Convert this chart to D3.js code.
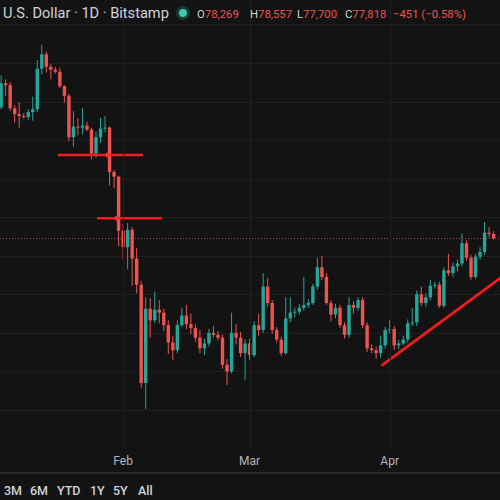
<!DOCTYPE html>
<html><head><meta charset="utf-8">
<script src="https://cdn.jsdelivr.net/npm/d3@7"></script>
<style>html,body{margin:0;padding:0;background:#131313;overflow:hidden}</style>
</head><body>
<svg id="c" width="500" height="500"></svg>
<script>
// ---- data (BTC / USD daily, Bitstamp) ----
const firstDay = "2026-01-05";
const opens  = [91400,93900,93700,91300,90700,90500,90400,90900,91200,95400,96900,95600,95300,95100,93600,92600,88300,89400,89300,89500,89100,86600,88300,89200,89300,84700,84200,78600,76900,78700,75700,73000,62800,70500,69300,70400,70100,68800,67000,66200,68800,69800,68900,68500,67500,66400,66900,68000,67800,67500,64700,64000,68000,67500,65900,66900,65700,68800,68300,72800,71100,68300,67300,65900,69500,70100,70200,70600,70900,71100,72800,74800,73800,71100,69900,70600,68800,67800,70900,70600,71400,68800,66400,66200,65900,66700,68300,68400,66700,66900,67300,69000,69100,72000,71100,71700,72900,73000,70800,74500,74200,74900,75200,77300,75800,73800,75900,76400,78400,78269];
const highs  = [94700,94300,94000,91600,91900,90800,91200,92500,96300,97900,97200,95900,95600,95500,93700,92800,91000,90300,91300,89900,89300,88900,90300,90500,89400,84900,84300,79300,79400,79000,76800,73400,71700,71600,72300,71400,70500,69300,67700,69300,70600,70900,70000,68900,68300,67400,68400,68700,68200,67800,65300,70100,68900,68100,67300,67400,69200,70000,74200,73700,71400,68600,67600,71700,71700,70600,71000,73800,71500,73100,75800,76000,74200,71400,71000,70900,69100,71700,71300,71700,71700,69100,66800,66600,67700,68600,69300,68700,67300,67700,69400,70600,72400,72800,72100,73500,73300,73300,74800,76200,75300,75600,78300,77600,76100,76200,76900,79500,79000,78557];
const lows   = [91200,92600,91000,89800,89300,90200,90100,90000,90900,94800,95000,94300,94900,93400,91900,87900,87300,88500,88600,88900,86000,86200,87700,88800,83300,83000,77000,75600,74600,72900,72100,62300,60100,67500,69000,69000,68200,65800,65200,65900,68600,68400,67900,67100,65900,65700,66600,67500,67200,64300,62600,63800,66800,65500,63100,65200,65500,67700,68000,70700,67900,67000,65600,65700,69100,69600,69900,70300,70600,70900,72500,73500,70900,69200,69500,68500,67400,67500,70000,70300,68500,66000,65900,65300,65400,66400,67900,66200,66300,66700,67000,68700,68700,70800,70700,71400,72600,70600,70600,73900,73800,74400,74900,75500,73500,73600,75600,76100,77900,77700];
const closes = [93900,93700,91300,90700,90500,90400,90900,91200,95400,96900,95600,95300,95100,93600,92600,88300,89400,89300,89500,89100,86600,88300,89200,89300,84700,84200,78600,76900,78700,75700,73000,62800,70500,69300,70400,70100,68800,67000,66200,68800,69800,68900,68500,67500,66400,66900,68000,67800,67500,64700,64000,68000,67500,65900,66900,65700,68800,68300,72800,71100,68300,67300,65900,69500,70100,70200,70600,70900,71100,72800,74800,73800,71100,69900,70600,68800,67800,70900,70600,71400,68800,66400,66200,65900,66700,68300,68400,66700,66900,67300,69000,69100,72000,71100,71700,72900,73000,70800,74500,74200,74900,75200,77300,75800,73800,75900,76400,78400,78269,77818];
const priceTicks = [60000,64000,68000,72000,76000,80000,84000,88000,92000,96000,100000];
const monthTicks = ["2026-02-01","2026-03-01","2026-04-01"];
const monthLabels = ["Feb","Mar","Apr"];
// drawn annotations
const hLineStarts  = ["2026-01-17T14:00Z","2026-01-26T05:00Z"];
const hLineEnds    = ["2026-02-05T10:00Z","2026-02-09T15:00Z"];
const hLineAnchors = ["2026-01-28T16:00Z","2026-01-30T18:00Z"];
const hLinePrices  = [86450, 79900];
const trendDates   = ["2026-03-30T10:00Z","2026-04-25T10:00Z"];
const trendPrices  = [64670, 73660];
const rangeButtons = ["3M","6M","YTD","1Y","5Y","All"];
const headerTitle = "U.S. Dollar · 1D · Bitstamp";
const ohlcLabels = ["O","H","L","C"];
const ohlcValues = ["78,269","78,557","77,700","77,818"];
const changeText = "−451 (−0.58%)";

// ---- layout ----
const W = 500, H = 500, paneBottom = 447;
const UP = "#26a69a", DOWN = "#ef5350", DRAW = "#f21c1c";
const svg = d3.select("#c");
svg.append("rect").attr("width", W).attr("height", H).attr("fill", "#131313");

const dates = d3.utcDay.range(new Date(firstDay + "T00:00Z"), d3.utcDay.offset(new Date(firstDay + "T00:00Z"), closes.length));
const x = d3.scaleUtc().domain([new Date("2026-01-04T18:00Z"), new Date("2026-04-25T10:00Z")]).range([0, W]);
const y = d3.scaleLinear().domain([60000, 96000]).range([410, 63]);

const data = dates.map((d, i) => ({d, o: opens[i], h: highs[i], l: lows[i], c: closes[i]}));

svg.append("clipPath").attr("id", "pane").append("rect").attr("width", W).attr("height", paneBottom);
const pane = svg.append("g").attr("clip-path", "url(#pane)");

// grid
pane.append("g").selectAll("line").data(priceTicks).join("line")
  .attr("x1", 0).attr("x2", W).attr("y1", d => Math.round(y(d)) + 0.5).attr("y2", d => Math.round(y(d)) + 0.5)
  .attr("stroke", "#1f1f1f").attr("stroke-width", 1);
const mDates = monthTicks.map(s => new Date(s + "T00:00Z"));
svg.append("g").selectAll("line").data(mDates).join("line")
  .attr("x1", d => Math.round(x(d)) + 0.5).attr("x2", d => Math.round(x(d)) + 0.5)
  .attr("y1", 0).attr("y2", paneBottom).attr("stroke", "#1f1f1f");

// candles
const bw = 3.4;
const cg = pane.append("g");
cg.selectAll("line.wick").data(data).join("line").attr("class", "wick")
  .attr("x1", d => x(d.d)).attr("x2", d => x(d.d))
  .attr("y1", d => y(d.h)).attr("y2", d => y(d.l))
  .attr("stroke", d => d.c >= d.o ? UP : DOWN).attr("stroke-width", 1);
cg.selectAll("rect.body").data(data).join("rect").attr("class", "body")
  .attr("x", d => x(d.d) - bw / 2).attr("width", bw)
  .attr("y", d => y(Math.max(d.o, d.c)))
  .attr("height", d => Math.max(1, Math.abs(y(d.o) - y(d.c))))
  .attr("fill", d => d.c >= d.o ? UP : DOWN);

// current price line
const last = data[data.length - 1];
pane.append("line").attr("x1", 0).attr("x2", W)
  .attr("y1", Math.round(y(last.c)) + 0.5).attr("y2", Math.round(y(last.c)) + 0.5)
  .attr("stroke", DOWN).attr("stroke-opacity", 0.75).attr("stroke-dasharray", "1 2");

// drawings
hLinePrices.forEach((p, i) => {
  pane.append("line")
    .attr("x1", x(new Date(hLineStarts[i]))).attr("x2", x(new Date(hLineEnds[i])))
    .attr("y1", y(p)).attr("y2", y(p))
    .attr("stroke", DRAW).attr("stroke-width", 2.5);
  pane.append("circle").attr("cx", x(new Date(hLineAnchors[i]))).attr("cy", y(p)).attr("r", 2.6)
    .attr("fill", "#ff3030");
});
pane.append("line")
  .attr("x1", x(new Date(trendDates[0]))).attr("y1", y(trendPrices[0]))
  .attr("x2", x(new Date(trendDates[1]))).attr("y2", y(trendPrices[1]))
  .attr("stroke", DRAW).attr("stroke-width", 2.8).attr("stroke-linecap", "round");

// time axis labels
const font = "Roboto, 'Noto Sans', sans-serif";
svg.append("g").selectAll("text").data(mDates).join("text")
  .attr("x", d => x(d)).attr("y", 465).attr("text-anchor", "middle")
  .attr("font-family", font).attr("font-size", 12).attr("fill", "#b2b5be")
  .text((d, i) => monthLabels[i]);

// separator + range toolbar
svg.append("line").attr("x1", 0).attr("x2", W).attr("y1", 473).attr("y2", 473)
  .attr("stroke", "#2a2a2a").attr("stroke-width", 2);
const btnX = [4, 30, 57, 90, 113, 138];
svg.append("g").selectAll("text").data(rangeButtons).join("text")
  .attr("x", (d, i) => btnX[i]).attr("y", 495)
  .attr("font-family", font).attr("font-size", 12.5).attr("font-weight", 500).attr("fill", "#d1d4dc")
  .text(d => d);

// header
svg.append("text").attr("x", 3).attr("y", 18)
  .attr("font-family", font).attr("font-size", 14.6).attr("fill", "#d1d4dc").text(headerTitle);
svg.append("circle").attr("cx", 183).attr("cy", 13).attr("r", 7).attr("fill", UP).attr("fill-opacity", 0.25);
svg.append("circle").attr("cx", 183).attr("cy", 13).attr("r", 4).attr("fill", "#3ec7a8");
const ohlcX = [197, 250, 297, 345];
ohlcLabels.forEach((l, i) => {
  const t = svg.append("text").attr("x", ohlcX[i]).attr("y", 18)
    .attr("font-family", font).attr("font-size", 11.3);
  t.append("tspan").attr("fill", "#d1d4dc").text(l);
  t.append("tspan").attr("fill", DOWN).text(ohlcValues[i]);
});
svg.append("text").attr("x", 393).attr("y", 18)
  .attr("font-family", font).attr("font-size", 11.3).attr("fill", DOWN).text(changeText);
</script>
</body></html>
